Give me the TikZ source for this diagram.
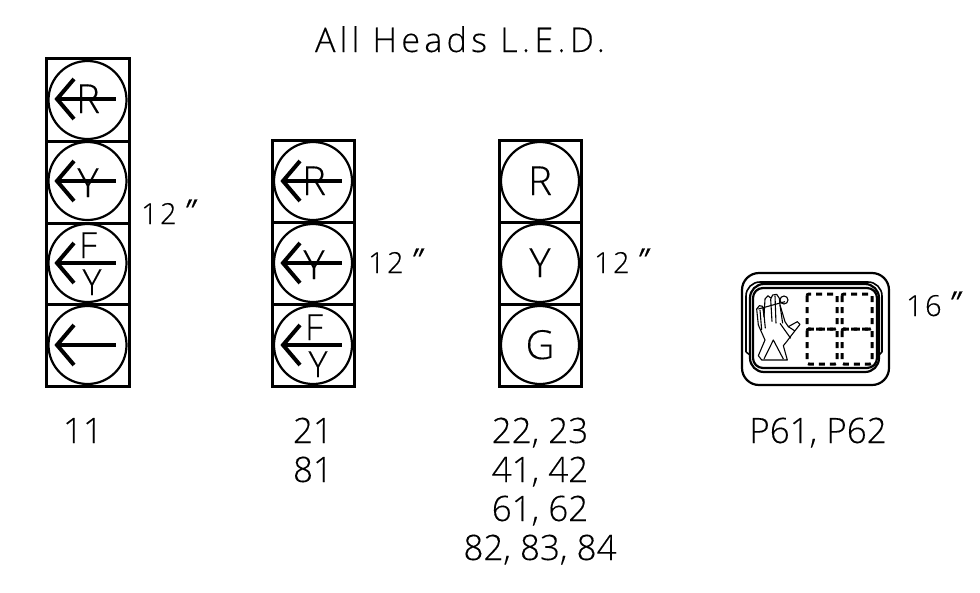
\documentclass[tikz,border=0pt]{standalone}
\usepackage{fontspec}
\setmainfont[FakeBold=0.25]{Open Sans Light}
\newfontfamily\spaced[LetterSpace=12.7,FakeBold=0.25]{Open Sans Light}
\newfontfamily\slanted[FakeSlant=0.45,FakeBold=0.6]{Open Sans}
\newcommand{\inch}[1]{#1\kern1pt\raisebox{3pt}{\slanted\fontsize{30}{30}\selectfont ″}}
\tikzset{
  x=1pt,y=-1pt,
  frame/.style={draw=black,line width=3pt,line join=miter},
  lamp/.style={draw=black,line width=2.2pt,circle,minimum size=78pt,inner sep=0pt},
  arrowline/.style={draw=black,line width=4pt,line cap=butt,line join=miter},
  letter/.style={anchor=base,inner sep=0pt,font=\fontsize{40}{40}\selectfont},
  small/.style={anchor=base,inner sep=0pt,font=\fontsize{36}{36}\selectfont},
  label/.style={anchor=base,inner sep=0pt,align=center,font=\fontsize{35}{35}\selectfont},
  size/.style={anchor=base west,inner sep=0pt,font=\fontsize{29}{29}\selectfont\addfontfeature{LetterSpace=8}},
  title/.style={anchor=base,inner sep=0pt,font=\spaced\fontsize{34}{34}\selectfont},
  thinline/.style={draw=black,line width=1.1pt,line join=round},
  ped/.style={draw=black,line width=1.6pt},
  pedo/.style={draw=black,line width=2.2pt},
  dashcell/.style={draw=black,line width=3pt,dash pattern=on 6pt off 5pt}
}
\newcommand{\lamparrow}[2]{%
  \draw[arrowline] (#1-30,#2) -- (#1+29,#2);
  \draw[arrowline] (#1-13,#2-20) -- (#1-30,#2) -- (#1-13,#2+20);}
\begin{document}
\begin{tikzpicture}
\useasboundingbox (0,0) rectangle (980,592);
\node[title] (ttl) at (460,52) {All Heads L.E.D.};

% head 11
\draw[frame] (46,58) rectangle (129,386);
\draw[frame] (46,141) -- (129,141) (46,223) -- (129,223) (46,304) -- (129,304);
\node[lamp] (a1) at (87.5,100) {};
\node[lamp] (a2) at (87.5,181) {};
\node[lamp] (a3) at (87.5,263) {};
\node[lamp] (a4) at (87.5,345) {};
\node[letter] (a1t) at (88,113) {R};
\node[letter] (a2t) at (88,197) {Y};
\node[small] (a3f) at (88,258) {F};
\node[small] (a3y) at (92,295) {Y};
\lamparrow{87}{99}
\lamparrow{87}{181}
\lamparrow{87}{263}
\lamparrow{87}{345}

% head 21
\draw[frame] (272,140) rectangle (354,386);
\draw[frame] (272,222) -- (354,222) (272,304) -- (354,304);
\node[lamp] (b1) at (313,181) {};
\node[lamp] (b2) at (313,263) {};
\node[lamp] (b3) at (313,345) {};
\node[letter] (b1t) at (314,195) {R};
\node[letter] (b2t) at (314,279) {Y};
\node[small] (b3f) at (314,340) {F};
\node[small] (b3y) at (318,377) {Y};
\lamparrow{313}{181}
\lamparrow{313}{263}
\lamparrow{313}{345}

% head 22
\draw[frame] (499,140) rectangle (581,386);
\draw[frame] (499,222) -- (581,222) (499,304) -- (581,304);
\node[lamp] (c1) at (540,181) {};
\node[lamp] (c2) at (540,263) {};
\node[lamp] (c3) at (540,345) {};
\node[letter] (c1t) at (540,195) {R};
\node[letter] (c2t) at (540,277) {Y};
\node[letter] (c3t) at (540,359) {G};

% sizes
\node[size] (s1) at (141,224) {\inch{12}};
\node[size] (s2) at (368,273) {\inch{12}};
\node[size] (s3) at (594,273) {\inch{12}};
\node[size] (s4) at (906,316) {\inch{16}};

% labels
\node[label] (l1) at (83,443) {11};
\node[label] (l2a) at (313,443) {21};
\node[label] (l2b) at (313,482) {81};
\node[label] (l3a) at (540,443) {22, 23};
\node[label] (l3b) at (540,482) {41, 42};
\node[label] (l3c) at (540,521) {61, 62};
\node[label] (l3d) at (540,560) {82, 83, 84};
\node[label] (l4) at (818,443) {P61, P62};

% pedestrian head
\draw[pedo,rounded corners=17pt] (742,273) rectangle (889,385);
\draw[ped,rounded corners=14pt] (746,352) -- (746,282) -- (882,282) -- (882,352);
\draw[ped] (746,352) -- (750,355) (882,352) -- (879,355);
\draw[pedo,rounded corners=14pt] (750,284) rectangle (879,372);
\draw[pedo,rounded corners=10pt] (753,288) rectangle (877,368);
\draw[dashcell,rounded corners=2pt] (807,294) rectangle (837,329);
\draw[dashcell,rounded corners=2pt] (842,294) rectangle (872,329);
\draw[dashcell,rounded corners=2pt] (807,329) rectangle (837,364);
\draw[dashcell,rounded corners=2pt] (842,329) rectangle (872,364);
\begin{scope}[shift={(750,285)},x=0.3333pt,y=-0.3333pt]
  \draw[thinline] (25,212) -- (45,165) -- (25,120) -- (20,72) -- (28,62) -- (38,64) -- (42,95) -- (45,42) -- (54,32) -- (63,40) -- (68,30) -- (80,28) -- (88,40) -- (90,60) -- (105,110) -- (115,125) -- (142,110) -- (150,118) -- (125,150) -- (110,170) -- (100,182) -- (112,225) -- (35,225) -- cycle;
  \draw[thinline] (42,222) -- (70,165) -- (100,222);
  \draw[thinline] (30,75) -- (35,135) (40,70) -- (46,130) (62,42) -- (66,110) (75,32) -- (78,115) (90,60) -- (98,115);
  \draw[thinline] (25,72) -- (105,50);
  \draw[thinline] (90,115) -- (122,160);
  \draw[thinline] (115,125) -- (135,138);
  \draw[thinline] (102,45) circle (12);
\end{scope}
\end{tikzpicture}
\end{document}
